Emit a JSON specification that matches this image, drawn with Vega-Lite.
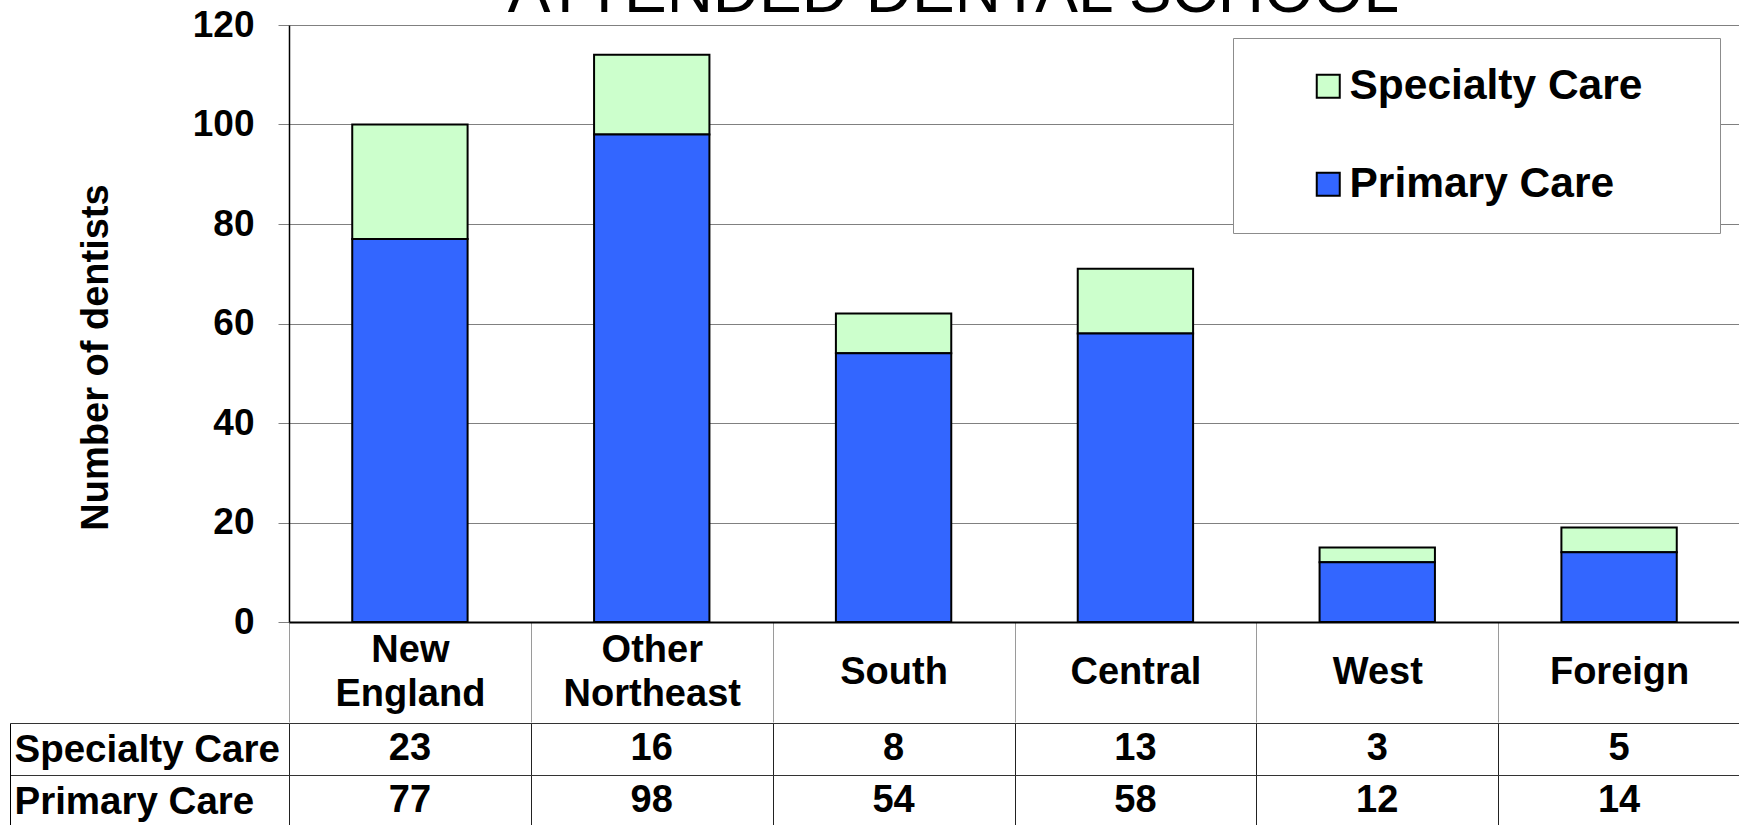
{
  "$schema": "https://vega.github.io/schema/vega-lite/v6.json",
  "autosize": {"type": "pad"},
  "padding": {"left": 9, "top": -39, "right": 0, "bottom": 0},
  "background": "white",
  "config": {"font": "Liberation Sans", "view": {"stroke": null}},
  "datasets": {
    "d": [
      {"region": "New England", "series": "Specialty Care", "value": 23},
      {"region": "New England", "series": "Primary Care", "value": 77},
      {"region": "Other Northeast", "series": "Specialty Care", "value": 16},
      {"region": "Other Northeast", "series": "Primary Care", "value": 98},
      {"region": "South", "series": "Specialty Care", "value": 8},
      {"region": "South", "series": "Primary Care", "value": 54},
      {"region": "Central", "series": "Specialty Care", "value": 13},
      {"region": "Central", "series": "Primary Care", "value": 58},
      {"region": "West", "series": "Specialty Care", "value": 3},
      {"region": "West", "series": "Primary Care", "value": 12},
      {"region": "Foreign", "series": "Specialty Care", "value": 5},
      {"region": "Foreign", "series": "Primary Care", "value": 14}
    ]
  },
  "spacing": -26,
  "vconcat": [
    {
      "width": 1451,
      "height": 597,
      "title": {"text": "ATTENDED DENTAL SCHOOL", "fontSize": 64, "fontWeight": "normal", "font": "Liberation Sans", "color": "black", "baseline": "alphabetic", "offset": -70, "anchor": "middle", "dx": -61},
      "data": {"name": "d"},
      "mark": {"type": "bar", "stroke": "black", "strokeWidth": 2, "width": {"band": 0.477}},
      "encoding": {
        "x": {
          "field": "region", "type": "nominal",
          "sort": ["New England", "Other Northeast", "South", "Central", "West", "Foreign"],
          "scale": {"type": "band", "paddingInner": 0, "paddingOuter": 0},
          "axis": {"title": null, "orient": "bottom", "domain": true, "domainColor": "black", "domainWidth": 2, "ticks": true, "tickBand": "extent", "tickSize": 100, "tickColor": "#9a9a9a", "labelExpr": "split(datum.label, ' ')", "labelFontSize": 38, "labelFontWeight": "bold", "labelColor": "black", "labelBaseline": "middle", "labelPadding": {"condition": {"test": "indexof(datum.label, ' ') >= 0", "value": -72}, "value": -50}, "labelLineHeight": 44, "labelAngle": 0, "labelLimit": 0, "grid": false}
        },
        "y": {
          "field": "value", "type": "quantitative", "stack": "zero",
          "scale": {"domain": [0, 120], "nice": false},
          "axis": {"title": "Number of dentists", "values": [0, 20, 40, 60, 80, 100, 120], "grid": true, "gridColor": "#808080", "gridWidth": 1, "tickSize": 11, "tickColor": "#808080", "domain": true, "domainColor": "black", "domainWidth": 1.5, "labelFontSize": 37, "labelFontWeight": "bold", "labelColor": "black", "labelPadding": 24, "titleFontSize": 38, "titleFontWeight": "bold", "titleColor": "black", "titleX": -193, "titleY": 332, "titleBaseline": "middle", "titleAlign": "center", "titleAngle": -90}
        },
        "color": {
          "field": "series", "type": "nominal",
          "scale": {"domain": ["Specialty Care", "Primary Care"], "range": ["#CCFFCC", "#3366FF"]},
          "legend": {"orient": "none", "legendX": 944, "legendY": 13, "title": "\u00a0", "titleOrient": "right", "titlePadding": 51, "titleFontSize": 42, "titleColor": "white", "fillColor": "white", "strokeColor": "#8c8c8c", "padding": 27, "symbolType": "square", "symbolSize": 529, "symbolStrokeColor": "black", "symbolStrokeWidth": 2, "symbolOpacity": 1, "labelFontSize": 42.5, "labelFont": "Liberation Sans", "labelFontWeight": "bold", "labelColor": "black", "labelBaseline": "middle", "rowPadding": 55, "symbolOffset": 47, "labelOffset": 0, "labelLimit": 0}
        },
        "order": {"field": "series", "sort": "ascending"}
      }
    },
    {
      "width": 1451,
      "height": 104,
      "data": {"name": "d"},
      "resolve": {"axis": {"y": "independent"}},
      "layer": [
        {
          "mark": {"type": "text", "fontSize": 38, "fontWeight": "bold", "font": "Liberation Sans", "color": "black", "baseline": "middle"},
          "encoding": {
            "x": {
              "field": "region", "type": "nominal",
              "sort": ["New England", "Other Northeast", "South", "Central", "West", "Foreign"],
              "scale": {"type": "band", "paddingInner": 0, "paddingOuter": 0},
              "axis": {"orient": "bottom", "title": null, "labels": false, "ticks": false, "domain": false, "grid": true, "gridColor": "#222222", "gridWidth": 1, "tickBand": "extent"}
            },
            "y": {
              "field": "series", "type": "nominal",
              "sort": ["Specialty Care", "Primary Care"],
              "scale": {"type": "band", "paddingInner": 0, "paddingOuter": 0},
              "axis": {"orient": "left", "title": null, "domain": false, "grid": true, "gridColor": "#333333", "gridWidth": 1, "tickBand": "extent", "ticks": true, "tickSize": 279, "tickColor": "#333333", "labelAlign": "left", "labelPadding": -4, "labelFontSize": 38.5, "labelFontWeight": "bold", "labelColor": "black", "labelBaseline": "middle", "labelLimit": 0}
            },
            "text": {"field": "value", "type": "quantitative"}
          }
        },
        {
          "mark": {"type": "text", "text": ""},
          "encoding": {
            "y": {
              "field": "series", "type": "nominal",
              "sort": ["Specialty Care", "Primary Care"],
              "axis": {"orient": "left", "offset": 279, "title": null, "domain": true, "domainColor": "black", "domainWidth": 1, "ticks": false, "labels": false, "grid": false}
            }
          }
        }
      ]
    }
  ]
}
